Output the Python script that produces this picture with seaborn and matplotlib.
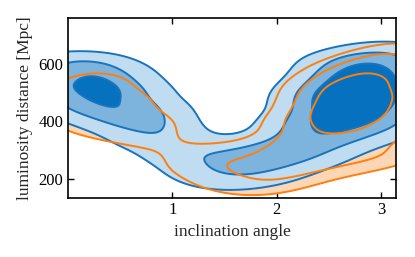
import numpy as np
import pandas as pd
import matplotlib
matplotlib.use('Agg')
import matplotlib.pyplot as plt
from matplotlib.colors import ListedColormap
import seaborn as sns

# --- anchor points: inclination [rad], distance [Mpc], weight ---
blue_incl = [0.0, 0.0, 0.0,
             0.2, 0.2, 0.2,
             0.4, 0.4, 0.4,
             0.6, 0.6, 0.6,
             0.8, 0.8, 0.8,
             1.0, 1.0, 1.0,
             1.2, 1.2,
             1.4, 1.4, 1.4,
             1.6, 1.6, 1.6,
             1.8, 1.8, 1.8,
             2.0, 2.0, 2.0,
             2.2, 2.2, 2.2, 2.2,
             2.4, 2.4, 2.4, 2.4, 2.4,
             2.6, 2.6, 2.6, 2.6, 2.6, 2.6,
             2.8, 2.8, 2.8, 2.8, 2.8, 2.8,
             3.0, 3.0, 3.0, 3.0, 3.0, 3.0,
             3.14, 3.14, 3.14, 3.14, 3.14, 3.14]
blue_dist = [470, 535, 600,
             450, 520, 590,
             425, 490, 555,
             395, 450, 505,
             345, 395, 440,
             285, 325, 360,
             230, 280,
             195, 245, 295,
             195, 245, 295,
             210, 260, 310,
             230, 275, 315,
             265, 310, 355, 395,
             295, 350, 410, 465, 510,
             330, 385, 440, 495, 550, 600,
             355, 410, 460, 510, 560, 615,
             375, 430, 480, 530, 580, 635,
             395, 450, 500, 550, 600, 645]
blue_wt = [1.0, 1.4, 1.2,
           1.2, 2.2, 1.8,
           1.2, 1.7, 1.6,
           1.2, 1.3, 1.0,
           1.15, 1.15, 0.8,
           0.6, 0.6, 0.4,
           0.55, 0.55,
           0.55, 0.6, 0.5,
           0.55, 0.65, 0.55,
           0.6, 0.7, 0.6,
           0.65, 0.8, 0.6,
           0.75, 0.95, 1.0, 0.8,
           0.8, 1.2, 1.5, 1.5, 1.0,
           0.75, 1.3, 1.7, 1.8, 1.6, 1.1,
           0.7, 1.2, 1.7, 1.8, 1.6, 1.1,
           0.65, 1.0, 1.2, 1.3, 1.2, 0.85,
           0.55, 0.7, 0.85, 0.85, 0.8, 0.55]

orange_incl = [0.0, 0.0,
               0.2, 0.2, 0.2,
               0.4, 0.4, 0.4,
               0.6, 0.6, 0.6,
               0.8, 0.8,
               1.0,
               1.2, 1.2,
               1.4, 1.4, 1.4,
               1.6, 1.6, 1.6,
               1.8, 1.8, 1.8,
               2.0, 2.0, 2.0,
               2.2, 2.2, 2.2, 2.2,
               2.4, 2.4, 2.4, 2.4, 2.4, 2.4,
               2.6, 2.6, 2.6, 2.6, 2.6, 2.6,
               2.8, 2.8, 2.8, 2.8, 2.8, 2.8,
               3.0, 3.0, 3.0, 3.0, 3.0, 3.0,
               3.14, 3.14, 3.14, 3.14, 3.14, 3.14]
orange_dist = [430, 500,
               400, 470, 545,
               380, 445, 520,
               365, 420, 475,
               340, 390,
               305,
               245, 275,
               205, 245, 285,
               190, 240, 290,
               180, 235, 295,
               190, 250, 315,
               215, 275, 340, 400,
               240, 300, 360, 415, 470, 525,
               255, 320, 385, 445, 505, 565,
               270, 340, 405, 465, 525, 590,
               285, 355, 420, 480, 545, 610,
               295, 365, 435, 500, 565, 630]
orange_wt = [0.5, 0.5,
             0.55, 0.55, 0.5,
             0.5, 0.5, 0.45,
             0.45, 0.45, 0.35,
             0.45, 0.4,
             0.35,
             0.3, 0.3,
             0.35, 0.4, 0.3,
             0.4, 0.45, 0.35,
             0.45, 0.5, 0.45,
             0.55, 0.65, 0.55,
             0.6, 0.8, 0.85, 0.7,
             0.6, 0.85, 1.2, 1.5, 1.2, 0.75,
             0.6, 0.9, 1.5, 2.3, 2.1, 1.1,
             0.6, 0.9, 1.5, 2.3, 2.0, 1.1,
             0.6, 0.85, 1.1, 1.3, 1.2, 0.95,
             0.5, 0.75, 0.9, 1.0, 0.95, 0.8]

iso_levels = [0.05, 0.3, 0.68]
blue_fills = ['#bfdcf0', '#7db4de', '#0571bf']
blue_line = '#1a74bd'
orange_fill = '#fdd6b5'
orange_line = '#ff7f0e'

df_blue = pd.DataFrame({'incl': blue_incl, 'dist': blue_dist, 'w': blue_wt})
df_orange = pd.DataFrame({'incl': orange_incl, 'dist': orange_dist, 'w': orange_wt})

sns.set_style('ticks')
plt.rcParams['font.family'] = ['Liberation Serif', 'DejaVu Serif']
plt.rcParams['font.size'] = 12
plt.rcParams['xtick.direction'] = 'in'
plt.rcParams['ytick.direction'] = 'in'
plt.rcParams['xtick.top'] = True
plt.rcParams['ytick.right'] = True

fig = plt.figure(figsize=(4.15, 2.57), dpi=100)
ax = fig.add_axes([0.164, 0.231, 0.79, 0.698])

kde_kw = dict(x='incl', y='dist', weights='w', bw_adjust=0.55, gridsize=200,
              clip=((0, np.pi), (0, 1000)), ax=ax)

# orange: only the outer region is shaded, drawn under the blue fills
sns.kdeplot(data=df_orange, levels=[iso_levels[0], 1], fill=True,
            cmap=ListedColormap([orange_fill]), **kde_kw)
sns.kdeplot(data=df_blue, levels=iso_levels + [1], fill=True,
            cmap=ListedColormap(blue_fills), **kde_kw)
sns.kdeplot(data=df_blue, levels=iso_levels, colors=[blue_line], linewidths=1.4, **kde_kw)
sns.kdeplot(data=df_orange, levels=iso_levels, colors=[orange_line], linewidths=1.4, **kde_kw)

ax.set_xlim(0, np.pi)
ax.set_ylim(136, 758)
ax.set_xticks([1, 2, 3])
ax.set_yticks([200, 400, 600])
ax.set_xlabel('inclination angle', fontsize=12.5)
ax.set_ylabel('luminosity distance [Mpc]', fontsize=12.5)
ax.tick_params(length=4, width=1, labelsize=12, colors='black')
for s in ax.spines.values():
    s.set_linewidth(1.2)
    s.set_color('black')

fig.savefig('out.png', dpi=100)
